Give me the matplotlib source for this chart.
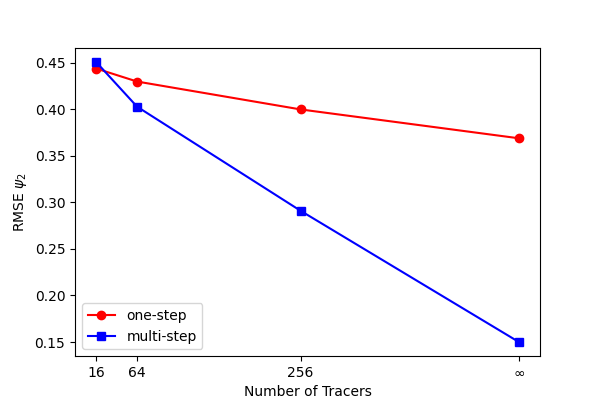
import matplotlib
matplotlib.use("Agg")
import matplotlib.pyplot as plt

# tracer counts; infinity drawn at 512
tracers = [16, 64, 256, 512]
tick_labels = ["16", "64", "256", r"$\infty$"]
one_step = [0.444, 0.430, 0.400, 0.369]
multi_step = [0.451, 0.403, 0.291, 0.150]

fig, ax = plt.subplots(figsize=(6, 4), dpi=100)
ax.plot(tracers, one_step, "o-", color="red", label="one-step")
ax.plot(tracers, multi_step, "s-", color="blue", label="multi-step")
ax.set_xticks(tracers)
ax.set_xticklabels(tick_labels)
ax.set_xlabel("Number of Tracers")
ax.set_ylabel(r"RMSE $\psi_2$")
ax.legend(loc="lower left")
fig.savefig("out.png")
